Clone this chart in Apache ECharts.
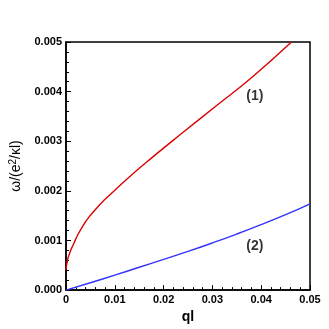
<!DOCTYPE html>
<html><head><meta charset="utf-8">
<script src="https://cdn.jsdelivr.net/npm/echarts@6/dist/echarts.min.js"></script>
<style>html,body{margin:0;padding:0;background:#fff}#c{width:329px;height:329px}</style>
</head><body><div id="c"></div>
<script>
const redQ = [0, 0.0003, 0.0008, 0.0016, 0.0025, 0.0035, 0.0047, 0.006, 0.0075, 0.009, 0.0125, 0.017, 0.024, 0.031, 0.038, 0.0462];
const redV = [0.0004, 0.0006, 0.00076, 0.00094, 0.00113, 0.0013, 0.00147, 0.00162, 0.00178, 0.00192, 0.00224, 0.00262, 0.00318, 0.00373, 0.00428, 0.005];
const blueQ = [0, 0.005, 0.01, 0.015, 0.02, 0.025, 0.03, 0.035, 0.04, 0.045, 0.05];
const blueV = [0, 0.000148, 0.000302, 0.00046, 0.00062, 0.00078, 0.00095, 0.00113, 0.00132, 0.00152, 0.00174];
const labels = [{q: 0.0387, v: 0.0039, t: '(1)'}, {q: 0.0387, v: 0.00088, t: '(2)'}];

const font = 'Liberation Sans, Arial, Helvetica, sans-serif';
const chart = echarts.init(document.getElementById('c'));
chart.setOption({
  animation: false,
  grid: {left: 66, right: 19, top: 42, bottom: 37, show: true, borderColor: '#000', borderWidth: 1.5, backgroundColor: 'transparent'},
  xAxis: {
    type: 'value', min: 0, max: 0.05, interval: 0.01,
    name: 'ql', nameLocation: 'middle', nameGap: 18,
    nameTextStyle: {fontFamily: font, fontWeight: 'bold', fontSize: 14, color: '#000'},
    axisLine: {show: true, lineStyle: {color: '#000', width: 1.5}},
    axisTick: {show: true, inside: true, length: 5, lineStyle: {color: '#000'}},
    minorTick: {show: true, splitNumber: 5, length: 3, lineStyle: {color: '#000'}},
    splitLine: {show: false},
    axisLabel: {fontFamily: font, fontWeight: 'bold', fontSize: 11, color: '#000', margin: 4,
      formatter: v => v === 0 ? '0' : v.toFixed(2)}
  },
  yAxis: {
    type: 'value', min: 0, max: 0.005, interval: 0.001,
    name: '{a|ω/(e}{s|2}{a|/κl)}', nameLocation: 'middle', nameGap: 35,
    nameTextStyle: {rich: {
      a: {fontFamily: font, fontSize: 14, color: '#000'},
      s: {fontFamily: font, fontSize: 10, color: '#000', verticalAlign: 'top', padding: [0, 0, 6, 0]}
    }},
    axisLine: {show: true, lineStyle: {color: '#000', width: 1.5}},
    axisTick: {show: true, inside: true, length: 5, lineStyle: {color: '#000'}},
    minorTick: {show: true, splitNumber: 5, length: 3, lineStyle: {color: '#000'}},
    splitLine: {show: false},
    axisLabel: {fontFamily: font, fontWeight: 'bold', fontSize: 11, color: '#000', margin: 4,
      formatter: v => v.toFixed(3)}
  },
  series: [
    {type: 'line', data: redQ.map((q, i) => [q, redV[i]]), smooth: 0.5, showSymbol: false,
     lineStyle: {color: '#dd0000', width: 1.4}, clip: true},
    {type: 'line', data: blueQ.map((q, i) => [q, blueV[i]]), smooth: 0.5, showSymbol: false,
     lineStyle: {color: '#3333ff', width: 1.4}, clip: true},
    {type: 'scatter', symbolSize: 0, data: labels.map(l => [l.q, l.v, l.t]),
     label: {show: true, position: 'inside', formatter: p => p.data[2],
       fontFamily: font, fontWeight: 'bold', fontSize: 14, color: '#000'}}
  ]
});
</script></body></html>
